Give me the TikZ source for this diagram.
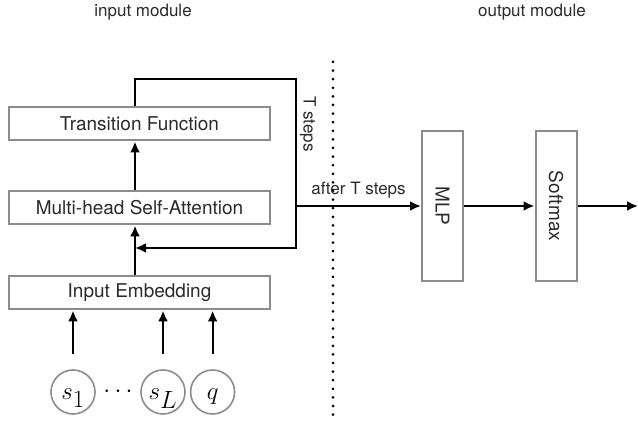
\documentclass[tikz,border=0pt]{standalone}
\usepackage{fontspec}
\setmainfont{TeX Gyre Heros}
\usetikzlibrary{positioning,arrows.meta}
\definecolor{boxgray}{HTML}{8C8C8C}
\definecolor{ink}{HTML}{2A2A2A}

\begin{document}
\begin{tikzpicture}[x=1pt,y=1pt,
                block/.style={draw=boxgray,line width=2pt,minimum width=261pt,minimum height=33pt,
                        text=ink,font=\fontsize{19}{22}\selectfont},
                tallblock/.style={draw=boxgray,line width=2pt,rotate=-90,minimum width=150pt,minimum height=41pt,
                        text=ink,font=\fontsize{19}{22}\selectfont},
                token/.style={circle,draw=boxgray,line width=1.6pt,minimum size=44pt,inner sep=0pt,
                        text height=15.5pt,text depth=0pt,font=\fontsize{36}{36}\selectfont},
                flow/.style={-{Latex[length=11pt,width=10pt]},line width=2.2pt},
                lbl/.style={text=ink,font=\fontsize{17}{20}\selectfont}]
                \useasboundingbox (0,0) rectangle (638,-427);
                % input module
                \node[lbl] (inTitle) at (143,-12) {input module};
                \node[block] (trans) at (139.5,-124) {Transition Function};
                \node[block, below=49pt of trans] (attn) {Multi-head Self-Attention};
                \node[block, below=50pt of attn] (embed) {Input Embedding};
                \node[token] (s1) at (73,-392) {$s_1$};
                \node[token] (sL) at (163,-392) {$s_L$};
                \node[token, right=4pt of sL] (q) {$q$};
                \node[font=\fontsize{30}{30}\selectfont] (dots) at (118,-392) {$\cdots$};
                \foreach \t in {s1,sL,q}
                        \draw[flow] ([yshift=15pt]\t.north) -- (\t |- embed.south);
                \coordinate (spine) at ([xshift=-4.5pt]embed.north);
                \draw[flow] (spine) -- (spine |- attn.south);
                \draw[flow] (spine |- attn.north) -- (spine |- trans.south);
                % recurrence
                \coordinate (loopR) at (296,-79);
                \coordinate (loopB) at (296,-248);
                \draw[flow] (spine |- trans.north) |- (loopR) -- (loopB) -- (loopB -| spine);
                \node[lbl, rotate=-90] (tsteps) at (308,-124) {T steps};
                % separator
                \coordinate (sepTop) at (333,-62);
                \coordinate (sepBot) at (333,-422);
                \draw[line width=3pt,line cap=round,dash pattern=on 0pt off 8.6pt] (sepTop) -- (sepBot);
                % output module
                \node[lbl] (outTitle) at (532,-12) {output module};
                \node[tallblock] (mlp) at (442.5,-206) {MLP};
                \node[tallblock] (soft) at (556,-206) {Softmax};
                \coordinate (out) at (638,-206);
                \draw[flow] (loopR |- mlp) -- node[lbl, above=3pt] (after) {after T steps} (mlp.south);
                \draw[flow] (mlp.north) -- (soft.south);
                \draw[flow] (soft.north) -- (out);
\end{tikzpicture}
\end{document}
